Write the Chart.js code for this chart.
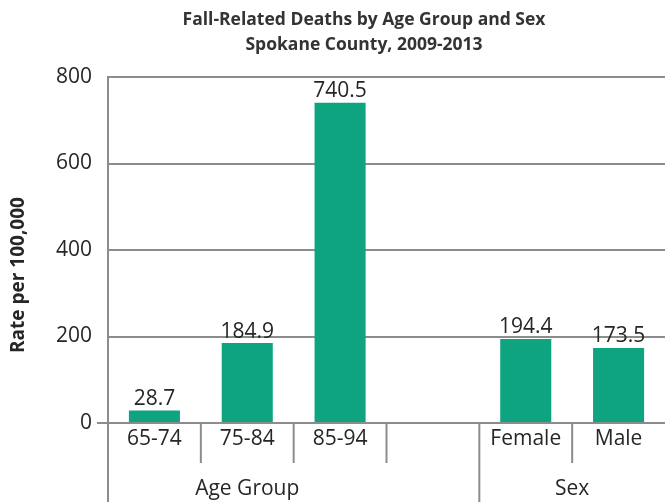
<!DOCTYPE html>
<html>
<head>
<meta charset="utf-8">
<script src="https://cdn.jsdelivr.net/npm/chart.js@4.4.1/dist/chart.umd.min.js"></script>
<style>
html,body{margin:0;padding:0;background:#fff;}
#wrap{width:665px;height:502px;}
</style>
</head>
<body>
<div id="wrap"><canvas id="chartFalls"></canvas></div>
<script>
let categories = ['65-74','75-84','85-94','','Female','Male'];
let rates = [28.7,184.9,740.5,null,194.4,173.5];
let yTicks = [0,200,400,600,800];

let groups = ['Age Group','Sex'];
let groupFirst = [0,4];
let groupLast = [2,5];

let titleLines = ['Fall-Related Deaths by Age Group and Sex','Spokane County, 2009-2013'];
let yTitle = 'Rate per 100,000';

let gray = '#8c8c8c';
let textColor = '#262626';
let barColor = '#0ea480';


// titles drawn by hand, in the original they are not centred on the plot
const titlePlugin = {
    id: 'titleText',
    afterDraw(chart){
        let ctx = chart.ctx;
        ctx.save();
        ctx.font = 'bold 17.5px "Open Sans"';
        ctx.fillStyle = '#333333';
        ctx.textAlign = 'center';
        ctx.textBaseline = 'middle';
        ctx.fillText(titleLines[0], 364, 20);
        ctx.fillText(titleLines[1], 364, 45);

        ctx.translate(19, 275);
        ctx.rotate(-Math.PI/2);
        ctx.font = 'bold 19px "Open Sans"';
        ctx.fillStyle = textColor;
        ctx.fillText(yTitle, 0, 0);
        ctx.restore();
    }
};

// value above every bar
const valuePlugin = {
    id: 'valueLabels',
    afterDatasetsDraw(chart){
        let ctx = chart.ctx;
        let meta = chart.getDatasetMeta(0);
        ctx.save();
        ctx.font = '21px "Open Sans"';
        ctx.fillStyle = textColor;
        ctx.textAlign = 'center';
        ctx.textBaseline = 'bottom';
        meta.data.forEach((bar,i)=>{
            if(rates[i] === null) return;
            ctx.fillText(rates[i].toFixed(1), bar.x, bar.y - 1);
        });
        ctx.restore();
    }
};

// separators and group names under the category axis
const groupPlugin = {
    id: 'groupAxis',
    afterDraw(chart){
        let ctx = chart.ctx;
        let xs = chart.scales.x;
        let slot = (xs.right - xs.left) / categories.length;
        let bottom = xs.top;
        ctx.save();
        ctx.strokeStyle = gray;
        ctx.lineWidth = 2;
        for(let i = 0; i < categories.length; i++){
            let x = xs.left + i*slot;
            let long = groupFirst.includes(i);
            ctx.beginPath();
            ctx.moveTo(x, bottom);
            ctx.lineTo(x, bottom + (long ? 79 : 40));
            ctx.stroke();
        }
        ctx.font = '21px "Open Sans"';
        ctx.fillStyle = textColor;
        ctx.textAlign = 'center';
        ctx.textBaseline = 'middle';
        groups.forEach((g,i)=>{
            let x = (xs.getPixelForTick(groupFirst[i]) + xs.getPixelForTick(groupLast[i])) / 2;
            ctx.fillText(g, x, bottom + 66);
        });
        ctx.restore();
    }
};

let config = {
    type: 'bar',
    data: {
        labels: categories,
        datasets: [{
            label: yTitle,
            data: rates,
            backgroundColor: barColor,
            borderWidth: 0,
            categoryPercentage: 1,
            barPercentage: 0.55
        }]
    },
    options: {
        responsive: true,
        maintainAspectRatio: false,
        animation: false,
        layout: {padding: {top: 77, left: 0, right: 0, bottom: 0}},
        plugins: {
            legend: {display: false},
            tooltip: {enabled: false}
        },
        scales: {
            x: {
                grid: {display: false, drawTicks: false},
                border: {color: gray, width: 2},
                ticks: {font: {family: 'Open Sans', size: 21}, color: textColor, padding: 3},
                afterFit(s){ s.height = 79; }
            },
            y: {
                min: 0,
                max: 800,
                afterBuildTicks(s){ s.ticks = yTicks.map(v=>({value: v})); },
                border: {color: gray, width: 2},
                grid: {
                    color: gray,
                    lineWidth: 2,
                    tickLength: 11,
                    tickColor: c => (c.tick && c.tick.value === 0) ? gray : 'rgba(0,0,0,0)'
                },
                ticks: {font: {family: 'Open Sans', size: 21}, color: textColor, padding: 5},
                afterFit(s){ s.width = 108; }
            }
        }
    },
    plugins: [titlePlugin, valuePlugin, groupPlugin]
};

window.addEventListener('DOMContentLoaded', ()=>{
    new Chart(document.getElementById('chartFalls'), config);
});
</script>
</body>
</html>
